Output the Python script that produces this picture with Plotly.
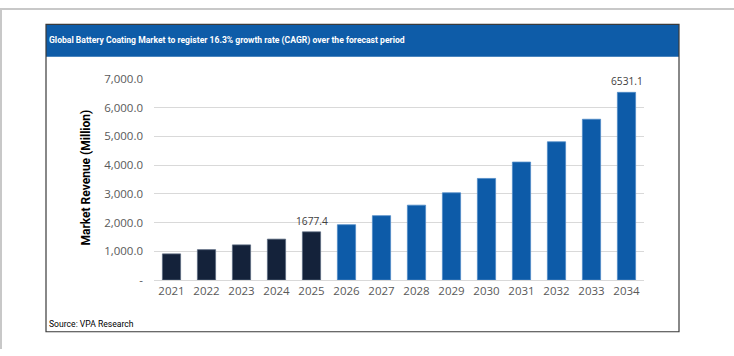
import plotly.graph_objects as go

years = ["2021", "2022", "2023", "2024", "2025", "2026", "2027", "2028",
         "2029", "2030", "2031", "2032", "2033", "2034"]
revenue = [910, 1057, 1223, 1423, 1677.4, 1925, 2240, 2605, 3035, 3535,
           4105, 4810, 5595, 6531.1]
labelled_years = ["2025", "2034"]
historical_count = 5
y_ticks = [0, 1000, 2000, 3000, 4000, 5000, 6000, 7000]
y_ticktext = ["-", "1,000.0", "2,000.0", "3,000.0", "4,000.0", "5,000.0",
              "6,000.0", "7,000.0"]

title_text = "Global Battery Coating Market to register 16.3% growth rate (CAGR) over the forecast period"
source_text = "Source: VPA Research"
y_title = "Market Revenue (Million)"

W, H = 734, 356
FONT = "Open Sans, Arial, sans-serif"
NARROW = "Roboto, Arial, sans-serif"

dark = "#14223A"
blue = "#0D5BA8"
colors = [dark if i < historical_count else blue for i in range(len(years))]
edge = ["#5A6A80" if i < historical_count else "#4F8AC6" for i in range(len(years))]

fig = go.Figure()
fig.add_trace(go.Bar(
    x=years, y=revenue,
    marker=dict(color=colors, line=dict(color=edge, width=0.8)),
    width=0.52, hoverinfo="x+y",
))


def px_x(x):
    return x / W


def px_y(y):
    return 1 - y / H


shapes = [
    dict(type="line", xref="paper", yref="paper", x0=0, x1=1, y0=px_y(1), y1=px_y(1),
         line=dict(color="#C8C8C8", width=2)),
    dict(type="line", xref="paper", yref="paper", x0=px_x(1), x1=px_x(1), y0=0, y1=1,
         line=dict(color="#C8C8C8", width=2)),
    dict(type="rect", xref="paper", yref="paper", x0=px_x(46), x1=px_x(679),
         y0=px_y(51), y1=px_y(17), fillcolor="#0E5CA8", line=dict(width=0), layer="below"),
    dict(type="rect", xref="paper", yref="paper", x0=px_x(46), x1=px_x(679),
         y0=px_y(338), y1=px_y(17), line=dict(color="#3A3A3A", width=1.2)),
]

annotations = [
    dict(text=title_text, xref="paper", yref="paper", x=px_x(47), y=px_y(34),
         xanchor="left", yanchor="middle", showarrow=False,
         font=dict(family=NARROW, size=8.6, color="white", weight="bold")),
    dict(text=source_text, xref="paper", yref="paper", x=px_x(47), y=px_y(330),
         xanchor="left", yanchor="middle", showarrow=False,
         font=dict(family=NARROW, size=8.6, color="black")),
    dict(text="<b>" + y_title + "</b>", xref="paper", yref="paper", x=px_x(86), y=px_y(177),
         xanchor="center", yanchor="middle", showarrow=False, textangle=-90,
         font=dict(family=NARROW, size=12, color="black")),
]
for i, (yr, val) in enumerate(zip(years, revenue)):
    if yr in labelled_years:
        annotations.append(dict(
            text=f"{val:.1f}", x=i, y=val, xref="x", yref="y",
            yanchor="bottom", showarrow=False, yshift=2,
            font=dict(family=FONT, size=10.2, color="#404040")))

fig.update_layout(
    width=W, height=H, margin=dict(l=0, r=0, t=0, b=0),
    paper_bgcolor="white", plot_bgcolor="white", showlegend=False,
    shapes=shapes, annotations=annotations,
    xaxis=dict(type="category", domain=[px_x(154), px_x(644)],
               range=[-0.5, len(years) - 0.5], autorange=False, showgrid=False,
               showline=True, linecolor="#D9D9D9", linewidth=1, ticks="",
               tickfont=dict(family=FONT, size=11.5, color="#595959")),
    yaxis=dict(domain=[px_y(284), px_y(74)], range=[0, 7000], autorange=False,
               tickvals=y_ticks, ticktext=y_ticktext, showgrid=True, gridcolor="#D9D9D9",
               gridwidth=1, zeroline=False, showline=False, ticks="", ticklabelstandoff=10,
               tickfont=dict(family=FONT, size=11.5, color="#595959")),
)

fig.write_html(
    "out.html",
    config={"displayModeBar": False},
    post_script="document.body.style.margin='0';document.body.style.overflow='hidden';",
)
